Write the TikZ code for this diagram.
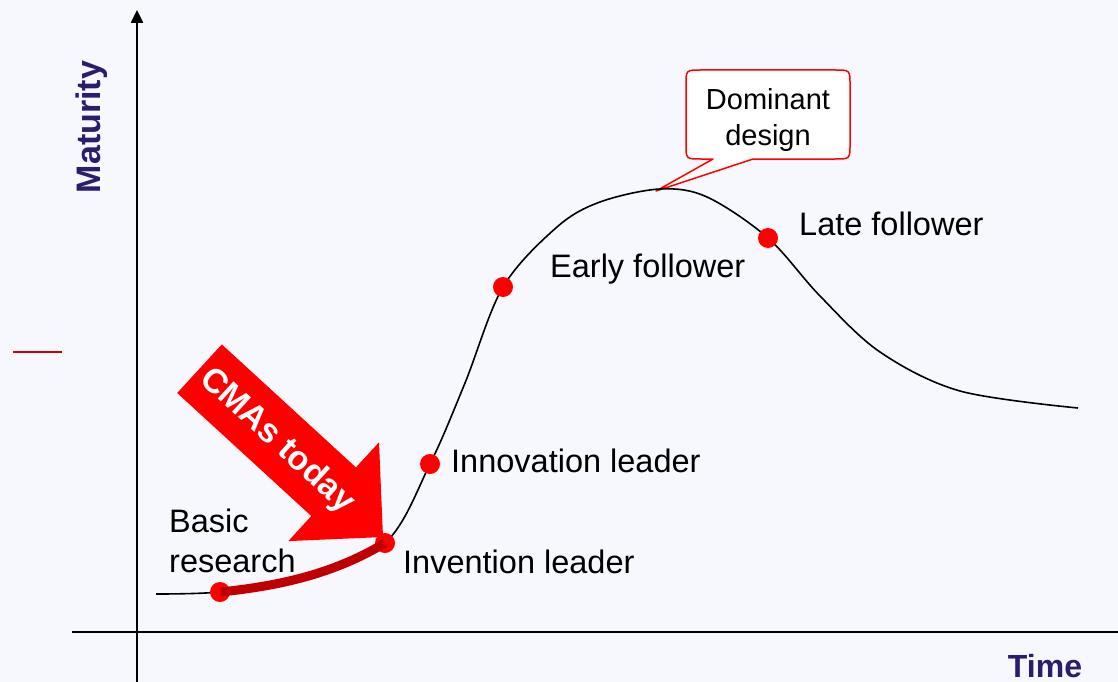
\documentclass[tikz,border=0pt]{standalone}
\usepackage{fontspec}
\setmainfont{Liberation Sans}
\usetikzlibrary{arrows.meta}
\definecolor{bg}{RGB}{247,248,253}
\definecolor{axislbl}{RGB}{44,28,110}
\definecolor{thickred}{RGB}{192,0,0}
\definecolor{shortred}{RGB}{204,0,0}
\begin{document}
\begin{tikzpicture}[x=1pt,y=-1pt,
  lbl/.style={inner sep=0pt, font=\fontsize{32.5}{40}\selectfont, text=black},
  axlbl/.style={inner sep=0pt, text=axislbl},
  dot/.style={circle, fill=red, inner sep=0pt, minimum size=20pt},
  axisline/.style={line width=2.5pt, black},
  curveline/.style={line width=1.6pt, black},
  callout/.style={draw=red, line width=1.5pt, fill=white, line join=round},
]
\fill[bg] (0,0) rectangle (1118,682);
\useasboundingbox (0,0) rectangle (1118,682);

% axes
\coordinate (ybot) at (137,682);
\coordinate (ytop) at (137,10);
\coordinate (xl) at (72,632);
\coordinate (xr) at (1118,632);
\draw[axisline, -{Triangle[width=12pt,length=13pt]}] (ybot) -- (ytop);
\draw[axisline] (xl) -- (xr);
\node[axlbl, font=\fontsize{34}{40}\selectfont\bfseries, rotate=90, anchor=base] (maturity) at (100,127) {Maturity};
\node[axlbl, font=\fontsize{32}{40}\selectfont\bfseries, anchor=base] (time) at (1045,677) {Time};

% short red mark
\coordinate (m1) at (13,352);
\coordinate (m2) at (62,352);
\draw[shortred, line width=2.5pt] (m1) -- (m2);

% big arrow
\fill[red] (221.8,344.4) -- (355.9,467.4) -- (379,442.3) -- (383,537) -- (288.3,541.1) -- (311.3,516) -- (177.2,393) -- cycle;
\node[rotate=-42.5, font=\fontsize{34}{40}\selectfont\bfseries, text=white, inner sep=0pt] (cmas) at (277,441) {CMAs today};

% callout
\draw[callout] (713,159) -- (656,191) -- (753,159) -- (835,159) .. controls (850,159) .. (850,144) -- (850,85) .. controls (850,70) .. (835,70) -- (701,70) .. controls (686,70) .. (686,85) -- (686,144) .. controls (686,159) .. (701,159) -- cycle;
\node[font=\fontsize{29}{36}\selectfont, align=center, inner sep=0pt] (dd) at (768,120) {Dominant\\design};

% curve
\coordinate (basicpt) at (220,592);
\coordinate (invpt) at (385,543);
\coordinate (innopt) at (430,464);
\coordinate (earlypt) at (503,287);
\coordinate (latept) at (768,238);
\draw[curveline] plot[smooth, tension=0.55] coordinates {(156,594) (basicpt) (300,580) (invpt) (innopt) (465,383) (earlypt) (557,227) (600,202) (660,189) (707,197) (latept) (820,296) (880,352) (960,391) (1078,408)};

\node[dot] (basic) at (basicpt) {};
\node[dot] (inv) at (invpt) {};
\node[dot] (inno) at (innopt) {};
\node[dot] (early) at (earlypt) {};
\node[dot] (late) at (latept) {};

\draw[thickred, line width=9pt] (basic.center) .. controls (290,585) and (340,570) .. (inv.center);

% labels
\node[lbl, align=left, anchor=west] (basiclbl) at (169,540.4) {Basic\\research};
\node[lbl, anchor=base west] (invlbl) at (403,573) {Invention leader};
\node[lbl, anchor=base west] (innolbl) at (451,472) {Innovation leader};
\node[lbl, anchor=base west] (earlylbl) at (550,277) {Early follower};
\node[lbl, anchor=base west] (latelbl) at (799,235) {Late follower};
\end{tikzpicture}
\end{document}
